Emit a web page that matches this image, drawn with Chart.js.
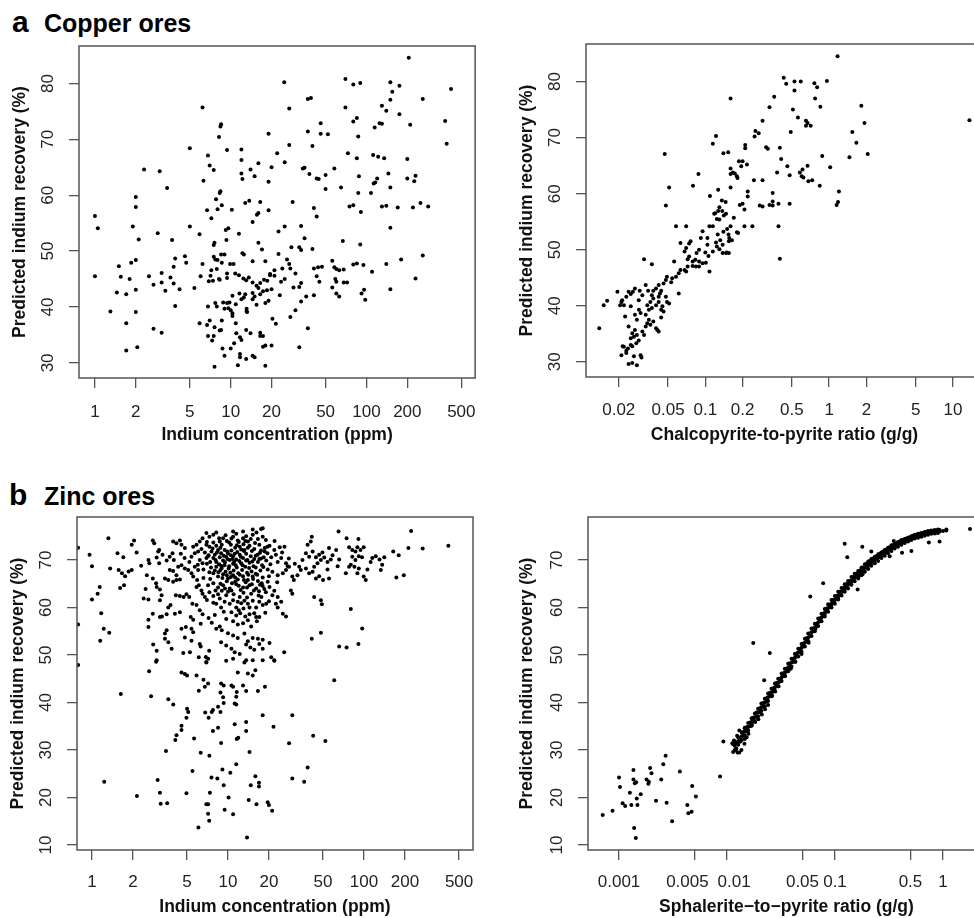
<!DOCTYPE html>
<html>
<head>
<meta charset="utf-8">
<script src="https://cdn.jsdelivr.net/npm/chart.js@4.4.0/dist/chart.umd.min.js"></script>
<style>
html, body { margin: 0; padding: 0; background: #fff; overflow: hidden; width: 974px; height: 918px; }
canvas { position: absolute; }
.lab { position: absolute; font-family: "Liberation Sans", Arial, sans-serif; font-weight: bold; color: #000; line-height: 1; white-space: nowrap; }
</style>
</head>
<body>
<div class="lab" style="left:12px;top:7px;font-size:30px;">a</div>
<div class="lab" style="left:44px;top:11px;font-size:25px;">Copper ores</div>
<div class="lab" style="left:9px;top:480px;font-size:30px;">b</div>
<div class="lab" style="left:44px;top:484px;font-size:25px;">Zinc ores</div>
<canvas id="cuIn" width="490" height="410" style="left:0;top:40px"></canvas>
<canvas id="cuRatio" width="510" height="420" style="left:490px;top:30px"></canvas>
<canvas id="znIn" width="490" height="418" style="left:0;top:500px"></canvas>
<canvas id="znRatio" width="510" height="418" style="left:490px;top:500px"></canvas>
<script>
// tick values and labels
var concTicks = [1, 2, 5, 10, 20, 50, 100, 200, 500];
var concLabels = ["1", "2", "5", "10", "20", "50", "100", "200", "500"];
var cpyTicks = [0.02, 0.05, 0.1, 0.2, 0.5, 1, 2, 5, 10];
var cpyLabels = ["0.02", "0.05", "0.1", "0.2", "0.5", "1", "2", "5", "10"];
var sphTicks = [0.001, 0.005, 0.01, 0.05, 0.1, 0.5, 1];
// the two crowded labels are nudged apart, as in the original
var sphLabels = ["0.001", "0.005\u00a0\u00a0\u00a0", "\u00a0\u00a0\u00a00.01", "0.05", "0.1", "0.5", "1"];
var cuRecTicks = [30, 40, 50, 60, 70, 80];
var znRecTicks = [10, 20, 30, 40, 50, 60, 70];

// a, left: indium concentration (ppm) vs predicted recovery (%)
var copperByIndium = [
[205,84.6],[24.8,80.2],[70,80.8],[80,79.8],[90,80.1],[150,80.2],[175,79.6],[155,78.5],[420,79],[260,77.2],[150,77.1],[6.2,75.7],[27,75.5],[37,77.2],[39,77.4],[70,75.7],[130,76],[140,75.1],[175,74.5],[85,73.8],[80,73.2],[125,72.9],[130,72.8],[380,73.3],[210,72.6],[115,72.1],[46,72.9],[8.5,72.7],[8.4,72.3],[8.2,70.4],[19,71],[37,71.4],[46,71],[52,70.9],[87,70.5],[390,69.2],[40,68.8],[27,69],[5,68.4],[9.4,68.1],[12,68.2],[22,67.5],[73,67.5],[112,67.2],[122,66.9],[135,66.6],[85,66.6],[200,66.5],[6.8,67.1],[12,66.3],[25,65.9],[7,65.3],[16,65.7],[20,65],[35,64.9],[34,64.8],[58,64.8],[7.5,64.5],[2.3,64.6],[3.0,64.3],[3.4,61.3],[14,64.6],[12,63.9],[145,63.9],[38,63.8],[12.2,62.9],[15,63.4],[19,62.4],[6.3,62.6],[43,63],[44.5,62.9],[50,63.6],[88,63.4],[120,63],[230,63.5],[200,63],[225,62.5],[116,62.3],[113,62.1],[108,60.4],[87,60.4],[150,61.4],[65,61.4],[50,61.1],[8.4,60.7],[8.3,60.4],[7.8,59.3],[2,59.7],[2,57.9],[1,56.3],[6.7,57.3],[8,57.5],[8.6,58.2],[10.2,57.4],[12.8,58.6],[13.7,59],[16.5,58.8],[28.6,58.8],[41,57.7],[43,56.2],[75,58],[80,58.2],[91,57],[130,58],[140,58.1],[170,57.8],[220,57.8],[250,58.6],[285,58],[7.2,55.9],[16,56.8],[15.6,56.5],[19,57.3],
[1.05,54.1],[1.9,54.4],[2.1,52.1],[2.9,53.2],[5,54.4],[5.9,53],[3.7,52],[11.5,53.1],[9.2,53.8],[9.6,54.1],[9.3,52],[14.5,55.2],[22.5,53.5],[25,54.4],[33,54.5],[35,52.3],[67,51.8],[90,51.2],[150,54.2],[40,50.4],[28,50.7],[32,50.7],[33,50.2],[7.6,51.5],[7.5,51.1],[16,51.5],[17,50.3],[12.5,49.4],[12.2,49.6],[14.5,48.2],[22.5,49.5],[26,48.5],[27,47.7],[24,46.9],[21,46.6],[18,48.2],[19.5,45.9],[10.5,47.7],[9.9,47.7],[8.6,47.9],[8,48.4],[7.7,48.5],[7.5,49],[8.5,49.4],[9,49.4],[7.9,46.8],[7.2,46.6],[7.1,45.6],[6.2,47.7],[4.6,49.1],[4.7,47.9],[3.9,48.7],[3.8,47.2],[3.1,46.1],[3.1,44.4],[2.7,44],[2.5,45.5],[3.6,45.3],[3.8,44.2],[4.2,43.2],[3.3,42.9],[5.4,43.4],[6,45.5],[6.9,44.6],[7.4,44.7],[8.2,45],[8.3,44.9],[9.4,45.2],[9.4,46],[10.8,46],[11.5,45.7],[12.4,45.1],[13,44.8],[13.6,45.3],[14.5,44.4],[15.5,43.8],[16.5,44.3],[17.6,44.9],[18.6,44.7],[19.5,45.7],[21,45.6],[23.5,44.5],[25,45],[27.5,46.9],[30,46],[29,43.5],[32,43.6],[33,44.3],[36,41.9],[41,42.1],[41,46.9],[44,47.1],[47,47.2],[43,45.5],[45,44.5],[56,48.3],[58,47.1],[60,46.8],[63,46.6],[68,46.7],[59,45],[60,44.5],[68,44.4],[72,44.4],[56,43.5],[60,42.4],[63,41.9],[85,47.8],[95,47.5],[80,47.6],[110,46.3],[140,47.7],[180,48.5],[150,43.2],[92,42.4],[96,43.1],[98,41.3],[230,45.1],[260,49.2],
[1.3,39.2],[1.7,37.1],[1.7,42.3],[1.5,47.3],[1.55,45.4],[1.45,42.6],[1.85,47.9],[1.8,45],[2,48.4],[2,43.1],[2,39.1],[2.05,32.8],[1.7,32.2],[1,45.5],[2.7,36.1],[3.1,35.4],[3.9,40.2],[5.9,37.1],[6.7,36.8],[7,37.6],[6.8,34.8],[7.5,34.8],[7.6,36.4],[7.3,34],[6.8,40.1],[7.7,40.7],[7.9,40.1],[8.8,40.8],[9.4,40.7],[9.8,40.8],[9,39.7],[9.6,39.8],[10,39.4],[10.3,38.9],[10.3,38.4],[10.9,37.1],[10.9,40.5],[10.3,42],[11.6,42.4],[12,41.4],[12.5,41.7],[12.8,42.3],[13.1,39.7],[13.1,39.2],[14.5,41.4],[15,41.9],[14.5,42.5],[15.5,40.4],[16.5,42.3],[17.3,42.8],[18,40.7],[19,41.1],[8.6,37.6],[8.5,35.9],[8.3,35.8],[8.7,32.6],[9,31.3],[10,32.6],[11,35.3],[10.6,33.5],[11.7,34.6],[12,34.1],[13,35.9],[13.2,39.1],[14,35.3],[11.7,31.6],[11.7,31],[13,30.7],[11.3,29.6],[7.6,29.3],[14.5,31.3],[15,31],[16.5,35.4],[17.3,34.8],[16.5,34.8],[17.3,32.9],[18,33.1],[18,29.5],[20,33.1],[20.3,37.9],[21.5,37],[32,32.8],[27.5,38.2],[37,36.2],[30,39.4],[33,41],[18.5,43],[20,43.2],[23,42.1],[16,43.4]
];

// a, right: chalcopyrite-to-pyrite ratio (g/g) vs predicted recovery (%)
var copperByRatio = [
[1.17,84.5],[0.43,80.7],[0.45,79.6],[0.525,80],[0.525,78.4],[0.59,80],[0.76,79.7],[0.8,79],[0.96,80.1],[0.77,77],[0.36,77.3],[0.16,77],[0.33,75.4],[0.51,75],[0.85,75.5],[1.82,75.7],[1.93,72.6],[1.54,71],[1.66,69.1],[2.05,67.1],[1.46,66.5],[0.56,73.6],[0.65,73],[0.67,72.6],[0.71,72.1],[0.65,72.1],[0.29,73],[0.49,71],[0.254,71.2],[0.27,70.8],[0.25,70.2],[0.21,68.7],[0.21,68.1],[0.31,68.3],[0.32,68],[0.40,68.2],[0.41,66.2],[0.38,63.8],[0.46,64.9],[0.48,63.3],[0.58,63.8],[0.61,64.3],[0.67,65],[0.6,63.1],[0.62,62.9],[0.73,62.4],[0.68,62.2],[0.88,66.7],[1.02,64.7],[0.84,61.4],[1.2,60.4],[1.18,58.5],[1.15,58],[0.48,58.2],[0.39,58.2],[0.33,58],[0.35,57.9],[0.35,60.1],[0.35,58.6],[0.275,57.9],[0.29,57.7],[0.29,62.4],[0.047,67.1],[0.051,61.1],[0.048,57.9],[0.122,70.3],[0.115,68.9],[0.14,67.2],[0.153,67.4],[0.088,63.5],[0.0795,61.4],[0.109,59.6],[0.127,60.7],[0.16,64.5],[0.167,63.8],[0.173,63.6],[0.18,63.1],[0.16,63.5],[0.187,65.8],[0.2,65.8],[0.195,64.9],[0.182,62.8],[0.217,65.2],[0.22,60.4],[0.22,59.5],[0.16,61.1],[0.19,58],[0.2,58.2],[0.207,57.2],[0.136,58.8],[0.146,58.5],[0.13,57.6],[0.12,56.5],[0.118,56.4],[0.127,56.9],[0.137,56.9],[0.141,56.1],[0.147,56.4],[0.124,55.5],[0.13,55.4],[0.17,55.7],[0.247,62.4],[0.108,54.2],[0.115,54.2],[0.07,54.2],[0.058,54.2],[0.15,53.7],[0.16,54.2],[0.207,54.2],[0.24,54.2],[0.39,54.2],[13.6,73.1],
[0.18,53.1],[0.156,52.1],[0.154,52.7],[0.132,51.7],[0.124,50.6],[0.115,49.7],[0.106,48.9],[0.149,49.5],[0.155,51.5],[0.095,53.3],[0.092,52.1],[0.104,52.1],[0.104,50.9],[0.089,50],[0.085,49.4],[0.076,51.5],[0.074,51.1],[0.07,50.3],[0.068,49.7],[0.063,51.2],[0.101,47.7],[0.095,47.6],[0.089,47.9],[0.083,48.2],[0.079,47.9],[0.074,48.8],[0.072,48.3],[0.089,47],[0.084,47],[0.079,47.1],[0.07,46.1],[0.068,46.4],[0.072,47],[0.061,45.8],[0.063,46.4],[0.058,45.2],[0.054,44.9],[0.049,45.2],[0.048,44.6],[0.053,44.2],[0.046,44],[0.042,43.7],[0.04,43.1],[0.044,42.7],[0.043,42.2],[0.038,42.7],[0.037,41.9],[0.0345,42.7],[0.033,43.7],[0.032,48.3],[0.037,47.4],[0.056,47.9],[0.061,42.2],[0.108,46.1],[0.1,49.5],[0.122,51.3],[0.126,52.7],[0.138,50.9],[0.13,50.1],[0.14,53.2],[0.164,51.7],[0.184,53],[0.155,49.4],[0.138,49.4],[0.147,49.4],[0.4,48.4],
[0.0295,42.7],[0.031,41.9],[0.029,41],[0.027,43.1],[0.026,42.5],[0.025,42.1],[0.024,42.5],[0.023,41.6],[0.0213,41],[0.022,40.1],[0.0195,42.5],[0.021,40.7],[0.0205,40.1],[0.0161,40.9],[0.0151,40.1],[0.0139,36],[0.0225,38.1],[0.024,36.3],[0.0257,35.1],[0.027,35.7],[0.025,34.2],[0.0265,34.5],[0.028,34.8],[0.029,33.8],[0.031,35.4],[0.032,34.8],[0.0277,33.3],[0.0215,32.8],[0.022,32.7],[0.023,32],[0.0237,32.4],[0.025,33],[0.0257,32.8],[0.021,31.2],[0.023,31.6],[0.0265,31],[0.03,31.2],[0.0305,30.8],[0.024,29.6],[0.0257,29.8],[0.028,29.4],[0.033,36.3],[0.034,36.9],[0.035,37.5],[0.036,36.6],[0.038,37.2],[0.04,36],[0.041,35.7],[0.042,35.4],[0.033,38.4],[0.035,39.3],[0.037,39.6],[0.034,40.1],[0.036,40.7],[0.04,40.1],[0.042,40.7],[0.045,39.9],[0.044,39.3],[0.046,39],[0.044,37.9],[0.042,41.6],[0.038,41.3],[0.049,40.7],[0.051,40.4],[0.048,41.6],[0.025,39.9],[0.0291,39.3],[0.03,38.7],[0.027,38.4],[0.028,37.5]
];

// b, left: indium concentration (ppm) vs predicted recovery (%)
var zincByIndium = [
[0.79,72.6],[0.96,71.1],[1.0,68.7],[1.0,61.7],[1.1,62.9],[1.14,64.3],[1.17,58.8],[1.15,53],[1.22,55.5],[1.34,54.7],[1.32,74.6],[1.36,68.2],[1.54,71.4],[1.7,70.6],[1.57,67.9],[1.66,67.2],[1.75,66.6],[1.86,67.6],[1.96,67.9],[1.61,64.1],[1.72,64.7],[1.96,73.2],[2.04,74.1],[2.13,71.6],[2.3,68.8],[2.4,61.9],[2.6,61.7],[2.48,63.9],[2.53,66.8],[2.6,70],[2.64,69.3],[2.8,74.1],[2.87,73.5],[2.8,66.1],[2.96,65.1],[2.99,70.5],[3.12,69.3],[3.3,71.1],[3.07,71.8],[3.12,72.1],[2.99,64.3],[3.16,63.8],[3.25,62.6],[3.16,61.5],[2.8,58.7],[3.27,58.1],[2.6,57.4],[2.6,55.9],[2.82,52.2],[2.99,50.9],[2.99,48.9],[3.44,53.4],[3.64,52.7],[3.85,51.3],[3.44,54.5],[3.54,55.2],[3.16,58],[3.54,58.6],[3.64,60],[3.78,60.5],[3.64,65.8],[3.44,66.1],[3.73,67.9],[3.95,67.7],[4.18,66.8],[3.54,69.9],[3.73,70.7],[3.91,71.4],[3.95,73.9],[4.18,73.5],[4.43,74.1],[4.55,73.2],[4.82,72.5],[4.3,68.6],[4.55,68.9],[4.82,68.2],[3.95,65.4],[4.18,65.8],[4.43,65.9],[4.14,62.6],[4.43,62.4],[4.72,62.2],[4.95,62.8],[5.19,62.2],[4.07,58.7],[4.43,59],[4.55,55.5],[4.9,55.9],[4.82,53.7],[5.39,53],[4.69,50.4],[5.25,50.6],[5.32,58],[5.55,57.4],[5.55,54.8],[5.39,55.5],[6.2,52.3],[6.3,51.8],[6.1,49.5],[6.87,49.6],[7.14,49.2],[7.27,50.9],[6.94,48.4],[5.47,60.8],[5.87,60.5],[6.2,59.4],[6.5,58.6],[6.5,62.9],[6.76,62.2],[6.38,63.6],[5.87,64.3],[6.1,64.7],[5.55,66.5],[5.93,65.8],[5.1,67.9],[5.39,67.2],[5.7,68.6],[6.03,67.9],[6.2,70],[6.5,69.3],[6.94,70.4],[5.39,70.7],[5.7,71.4],[6.03,71.8],[6.38,72.3],[5.55,72.8],[5.87,73.2],[6.2,73.9],[6.5,74.6],[6.94,75.7],[7.3,74.9],[7.8,75.3],[8.2,75.8],[6.94,73.2],[7.3,72.8],[7.8,73.7],[8.2,73],[8.7,73.9],[9.2,74.6],
[6.76,71.6],[7.14,70.8],[7.56,71.8],[8.0,71.1],[8.45,72.1],[8.9,71.4],[9.45,72.1],[10,71.4],[10.6,72],[11.2,71.3],[7.8,70.4],[8.2,69.6],[8.7,70.6],[9.2,69.9],[9.7,70.7],[10.3,70],[10.9,70.8],[11.5,70.1],[12.2,71.1],[12.9,70.4],[13.6,71.3],[8.2,68.6],[8.8,67.9],[9.45,68.9],[10.1,68.2],[10.9,69.2],[11.6,68.4],[12.5,69.3],[13.4,68.6],[14.4,69.4],[15.4,68.7],[16.6,69.6],[17.8,68.9],[19.1,69.9],[7.8,67.2],[8.45,66.5],[9.2,67],[10,66.1],[10.9,66.8],[11.8,65.9],[12.9,66.6],[14,65.8],[15.2,66.5],[16.6,65.6],[18,66.3],[19.6,65.4],[7.14,64.7],[7.8,65.1],[8.45,64.2],[9.2,64.7],[10.3,64],[11.5,64.9],[12.9,64.2],[14.4,64.7],[16.1,64],[18,64.5],[12.2,72.8],[13.2,72.1],[14.4,73],[15.6,72.3],[17,73.2],[18.6,72.5],[20.2,73],[21.9,72.1],[24,72.7],[10.9,74.9],[11.8,74.1],[12.9,74.6],[14,73.9],[15.2,75.3],[16.6,74.4],[18,74.9],[12.9,76],[15.2,76.4],[17.5,76.5],[18,76.7],[10.9,76],
[7.0,69.2],[7.5,68.4],[8.0,67.8],[8.6,69.1],[9.0,68.3],[9.6,67.5],[10.4,67.3],[11.0,67.8],[11.9,67.2],[12.7,67.9],[13.8,67.3],[14.9,67.6],[16.0,67.1],[17.3,67.8],[6.6,66.2],[7.4,66.0],[9.8,65.5],[10.7,65.1],[12.0,64.6],[13.5,65.3],[15.0,64.9],[17.2,64.8],[19.0,63.2],[16.8,62.5],[14.8,62.9],[13.0,63.1],[11.0,62.8],[10.0,63.3],[9.0,63.5],[7.3,63.2],[7.0,61.6],[7.8,61.0],[11.8,61.2],[13.8,62.1],[17.6,62.2],[18.8,58.9],[16.3,57.1],[13.0,59.8],[12.0,59.4],[9.3,59.1],[8.0,58.4],[7.2,57.8],[6.3,56.6],[7.6,56.8],[9.9,71.8],[10.5,73.2],[11.3,72.6],[12.0,73.8],[13.0,73.3],[14.0,72.6],[15.0,71.9],[16.0,70.9],[17.2,71.5],[18.3,70.6],[19.5,71.4],[20.5,69.1],[8.6,74.6],[9.6,75.2],[10.2,73.7],[11.5,75.5],[13.6,75.0],[16.2,75.8],[19.0,74.2],[22.0,74.0],[25.0,71.6],[28.0,70.3],[31.0,69.2],[26.0,72.8],[20.0,66.6],[23.0,65.3],[7.0,73.8],[6.0,69.0],[5.2,69.6],[4.8,70.4],[4.5,71.3],[4.0,70.0],[6.6,68.0],[7.3,67.4],
[7.2,71.0],[7.7,72.4],[8.3,71.6],[8.8,72.6],[9.3,70.9],[9.9,70.2],[10.5,71.0],[11.1,69.6],[11.7,71.7],[12.4,70.7],[13.1,71.9],[13.9,70.0],[14.7,70.8],[15.6,70.2],[16.5,71.1],[17.5,70.3],[18.6,71.8],[7.4,69.6],[8.1,70.0],[8.9,68.8],[9.5,69.5],[10.2,68.7],[10.8,70.2],[11.4,68.9],[12.1,69.8],[12.8,68.9],[13.6,69.9],[14.3,68.3],[15.1,69.7],[16.0,68.4],[17.0,70.2],[18.2,68.5],[8.5,67.4],[9.1,66.2],[9.8,66.8],[10.5,66.4],[11.3,66.3],[12.2,66.9],[13.1,65.8],[14.1,66.9],[15.3,66.0],[16.4,66.9],[17.7,65.1],[8.1,63.6],[8.8,65.0],[9.5,64.0],[10.6,63.6],[11.3,65.4],[12.4,63.7],[13.8,64.2],[15.5,63.6],[16.9,63.4],[18.5,63.9],[9.0,73.2],[9.8,74.0],[10.6,74.5],[11.6,73.1],[12.5,72.2],[13.4,74.0],[14.7,74.4],[15.8,73.6],[17.5,72.0],[19.5,72.8],
[20.8,70.6],[22.5,71.1],[24.6,70.4],[26.7,69.3],[28.1,68.6],[23.2,69.6],[19.6,68],[21.2,67.5],[23.2,66.8],[25.3,67.2],[26.7,67.9],[27.5,68.7],[20.2,64.3],[21.9,63.5],[23.2,62.2],[21.2,62.6],[20,61.3],[19.1,60.8],[17,61.2],[18,60.5],[16.1,60],[15.2,61.4],[14,60.8],[14.4,60],[12.2,62.2],[13.2,61.4],[10.9,61.5],[10.3,60.8],[11.5,60],[12.5,60.9],[8.7,61.9],[9.45,61.2],[8.2,60.8],[8.9,60],[7.8,62.4],[9.7,62.6],[8.45,62.8],[10.6,59],[11.5,58.3],[12.3,58.8],[13.4,58.1],[14.4,58.6],[15.6,58.8],[17,58],[9.7,57.6],[10.9,57.1],[11.8,56.4],[12.9,56.7],[14,57.3],[14.8,56],[16.1,58],[8.7,56],[8.2,55.5],[9.0,55.2],[10,54.6],[10.9,54.1],[11.8,53.6],[13.2,54.5],[14,52.9],[15.2,53.6],[16.6,53.4],[18,53.2],[8.9,52.7],[9.7,52],[10.6,51.3],[11.2,50.6],[12.2,50.2],[13.6,52.2],[14.6,51.6],[15.6,51.1],[17,52.3],[18,51.3],[20.2,52.5],[20.8,49.5],[21.9,48.8],[25.9,50.6],[9.7,48.8],[10.9,49.2],[13.2,48.4],[15.2,48.9],[23.2,60],[25.3,58.7],[26.7,58.1],[24.6,61.2],[22.5,60.8],
[29.7,66.5],[30.5,65.8],[32.4,66.8],[29,63.6],[29.7,62.9],[33.4,68.6],[34.3,67.9],[35.3,70],[37.4,71.4],[39.5,70.7],[41.9,71.8],[44.3,70.6],[46.8,71.1],[49.5,71.6],[38.5,73.2],[40.6,73.9],[41.3,74.9],[43,68.6],[45.5,69.3],[48.2,70],[51,70.5],[53.9,69.6],[57,70.1],[37.4,68.2],[39.5,67.2],[41.9,67.5],[44.3,66.1],[46.8,66.6],[50,65.8],[53.9,68],[55.3,66.1],[55.3,72.5],[58.7,71],[62.4,72.1],[65.7,70.1],[64,68.7],[65,76],[43,62.2],[48.2,61.5],[49,60.7],[73.5,67.2],[77.7,68.6],[74.5,74.6],[77.7,72.7],[82,72.1],[86.5,71.8],[89.4,72.7],[94.2,72.1],[99.5,72.7],[91,74.4],[82,70.7],[86.5,70],[91.6,70.8],[96.7,70.6],[80,69],[85,68.6],[91.6,68.2],[89.4,67.2],[99.5,66.5],[103,65.8],[106,68],[112,69.6],[115,70.4],[122,70.8],[130,70.1],[136,69],[141,70.6],[133,67.9],[164,71.8],[180,71],[212,72.5],[222,76.1],[270,72.4],[417,73],[173,66.3],[196,66.8],[80,59.7],[97,55.6],[65.7,51.8],[74.5,51.6],[91,52.3],[41.3,53.4],[48.2,54.7],[0.79,56.4],
[2.63,46.6],[1.63,41.8],[2.72,41.3],[3.64,40.7],[3.96,39.6],[4.55,46.3],[4.82,46],[5.0,45.7],[5.87,45.7],[5.0,38.7],[5.1,38],[4.95,36.8],[4.55,35.1],[4.55,34.2],[4.18,33.1],[4.1,32.1],[3.5,29.8],[5.63,32.4],[6.1,42.5],[6.76,43.3],[7.14,44],[6.6,44.8],[8.8,42.1],[9.3,43.6],[10.6,43.6],[10.9,43.3],[11.6,42.2],[11.5,41.2],[11.8,46.3],[8.9,44],[12.9,43.6],[13.6,42.4],[14,46.1],[15.2,45.7],[15.9,46.8],[16.6,42.4],[18.7,43.3],[9.2,41.1],[9.3,39.9],[11.2,39.8],[11.5,39.6],[8.45,39.1],[8.8,38],[7.75,38.4],[7.6,38],[7.2,36.8],[6.8,37.9],[7.75,34],[8.45,34.7],[8.9,31.5],[11.2,35.4],[11.6,32.3],[11.9,32.6],[13.6,35.9],[13.6,34],[14.4,29.6],[18,37.3],[21.6,34.9],[28.1,31.4],[29.7,37.3],[42.3,33],[52,31.9],[60.4,44.7],[6.3,29.4],[7.3,28.8],[5.48,25.6],[9.1,25.9],[10.4,25.2],[11.5,27],[7.56,24.2],[8.35,24],[9.3,22.6],[10.1,20],[15.9,24.5],[16.9,23.1],[16.9,22.3],[14.7,22.6],[14.2,19.5],[16.2,18.6],[19.6,19],[20,18.4],[21.1,17.2],[29.7,24],[36.3,23.3],[38.5,26.3],[4.95,20.9],[3.04,23.7],[3.2,18.7],[3.16,21],[3.57,18.8],[2.14,20.3],[1.23,23.3],[7.36,21],[6.93,18.6],[7.14,18.6],[7.14,16.6],[7.27,15.1],[6.06,13.7],[9.45,17.4],[10.9,16.5],[13.8,11.6],[0.79,47.9],[6.93,48.5],[13.6,48.9],[18,48.9],[21.9,48.9],[2.96,48.6]
];

// b, right: sphalerite-to-pyrite ratio (g/g) vs predicted recovery (%)
var zincByRatio = [
[0.000706,16.3],[0.00087,17.2],[0.001,24.2],[0.00102,22.2],[0.00108,18.8],[0.00114,18.2],[0.00126,21],[0.0013,18.4],[0.00136,25.8],[0.00136,23.8],[0.0014,23],[0.00144,23.2],[0.00138,13.6],[0.00143,11.5],[0.00146,19.8],[0.00148,18.4],[0.00159,20.7],[0.0018,23.8],[0.00187,22.9],[0.00194,26.2],[0.002,25.1],[0.00189,23.3],[0.0022,19.3],[0.00246,23.8],[0.00257,27],[0.0027,28.8],[0.00276,18.9],[0.0031,15],[0.00366,25.5],[0.00429,18.4],[0.00438,16.7],[0.0047,17],[0.00476,22.4],[0.00515,20.2],[0.00862,24.4],[0.00925,31.8],[0.0112,31.4],[0.0121,30],[0.0125,29.5],[0.013,29.5],[0.0124,33],[0.013,34.1],[0.0132,31.8],[0.0146,32.3],[0.0152,32.7],[0.0146,34.6],[0.0157,34.9],
[0.0175,52.5],[0.0249,50.4],[0.0221,44.7],[0.059,62.3],[0.0777,65.1],[0.123,73.4],[0.13,70.6],[0.179,72.8],[0.217,71.8],[0.162,63.8],[0.35,74],[0.321,70.8],[0.418,71.5],[0.51,71.9],[0.74,73.7],[0.93,73.9],[1.78,76.5],
[0.0114,29.6],[0.0114,31.2],[0.0116,32.0],[0.0122,30.3],[0.0122,31.5],[0.0132,31.8],[0.0132,32.6],[0.0141,33.0],[0.0141,33.8],[0.0152,34.0],[0.0152,34.8],[0.0163,35.0],[0.0163,35.8],[0.0175,36.1],[0.0175,36.8],[0.0188,37.0],[0.0188,37.9],[0.0201,38.0],[0.0201,38.8],[0.0205,38.3],[0.0216,39.2],[0.0216,39.9],[0.0232,40.2],[0.0232,40.9],[0.0236,40.5],[0.0249,41.4],[0.0249,42.0],[0.0268,42.3],[0.0268,43.0],[0.0272,42.7],[0.0288,43.4],[0.0288,44.1],[0.0309,44.4],[0.0309,45.0],[0.0314,44.8],[0.0331,45.5],[0.0331,46.1],[0.0356,46.5],[0.0356,47.1],[0.0362,46.8],[0.0382,47.6],[0.0382,48.2],[0.041,48.6],[0.041,49.2],[0.0416,48.9],[0.0441,49.7],[0.0441,50.3],[0.0473,50.7],[0.0473,51.3],[0.048,51.0],[0.0508,51.8],[0.0508,52.4],[0.0545,52.9],[0.0545,53.5],[0.0553,53.2],[0.0585,54.0],[0.0585,54.5],[0.0628,55.0],[0.0628,55.6],[0.0637,55.3],[0.0674,56.1],[0.0674,56.6],[0.0724,57.1],[0.0724,57.7],[0.0735,57.4],[0.0777,58.2],[0.0777,58.7],[0.0834,59.2],[0.0834,59.8],[0.0846,59.5],[0.0896,60.1],[0.0896,60.6],[0.0962,61.0],[0.0962,61.6],[0.0976,61.3],[0.1033,61.9],[0.1033,62.4],[0.1109,62.7],[0.1109,63.3],[0.1125,63.0],[0.119,63.6],[0.119,64.1],[0.1277,64.3],[0.1277,64.9],[0.1296,64.6],[0.137,65.1],[0.137,65.6],[0.1472,65.8],[0.1472,66.4],[0.1494,66.1],[0.158,66.6],[0.158,67.1],[0.1696,67.2],[0.1696,67.8],[0.1721,67.5],[0.182,67.9],[0.182,68.4],[0.1954,68.7],[0.1954,69.2],[0.21,69.3],[0.21,69.8],[0.2254,69.8],[0.2254,70.3],[0.242,70.3],[0.242,70.8],[0.26,70.8],[0.26,71.3],[0.279,71.3],[0.279,71.8],[0.299,71.8],[0.299,72.2],[0.321,72.3],[0.321,72.7],[0.345,72.7],[0.345,73.1],[0.37,73.1],[0.37,73.5],[0.397,73.5],[0.397,73.9],[0.427,73.9],[0.427,74.2],[0.458,74.2],[0.458,74.5],[0.492,74.5],[0.492,74.8],[0.528,74.7],[0.528,75.1],[0.567,75.0],[0.567,75.3],[0.609,75.2],[0.609,75.5],[0.653,75.4],[0.653,75.7],[0.701,75.6],[0.701,75.9],[0.753,75.7],[0.753,76.0],[0.808,75.8],[0.808,76.1],[0.868,75.8],[0.868,76.2],[0.931,76.0],[0.931,76.3],[1.0,76.1],[1.074,76.2],[1.074,76.4],
[0.0118,30.0],[0.0118,31.8],[0.0127,31.1],[0.0127,32.7],[0.0137,32.1],[0.0137,33.7],[0.0146,33.1],[0.0146,34.7],[0.0157,34.1],[0.0157,35.7],[0.0169,35.1],[0.0169,36.7],[0.0181,36.1],[0.0181,37.7],[0.0194,37.1],[0.0194,38.7],[0.0208,38.2],[0.0208,39.8],[0.0224,39.2],[0.0224,40.8],[0.024,40.3],[0.024,41.9],[0.0258,41.3],[0.0258,42.9],[0.0278,42.4],[0.0278,44.0],[0.0298,43.4],[0.0298,45.0],[0.032,44.5],[0.032,46.1],[0.0343,45.5],[0.0343,47.1],[0.0369,46.6],[0.0369,48.2],[0.0396,47.6],[0.0396,49.2],[0.0425,48.6],[0.0425,50.2],[0.0457,49.7],[0.0457,51.3],[0.049,50.7],[0.049,52.3],[0.0526,51.8],[0.0526,53.4],[0.0565,52.9],[0.0565,54.5],[0.0606,54.0],[0.0606,55.6],[0.0651,55.0],[0.0651,56.6],[0.0699,56.1],[0.0699,57.7],[0.075,57.1],[0.075,58.7],[0.0805,58.1],[0.0805,59.7],[0.0864,59.1],[0.0864,60.7],[0.0928,60.0],[0.0928,61.6],[0.0997,60.8],[0.0997,62.4],[0.107,61.7],[0.107,63.3],[0.115,62.5],[0.115,64.1],[0.123,63.3],[0.123,64.9],[0.132,64.0],[0.132,65.6],[0.142,64.8],[0.142,66.4],[0.152,65.5],[0.152,67.1],[0.164,66.1],[0.164,67.7],[0.176,66.8],[0.176,68.4],[0.189,67.5],[0.189,69.1],[0.203,68.1],[0.203,69.7],[0.217,68.8],[0.217,70.2],[0.234,69.3],[0.234,70.7],[0.251,69.8],[0.251,71.2],[0.269,70.4],[0.269,71.6],[0.289,70.9],[0.289,72.1],[0.31,71.4],[0.31,72.6],[0.333,71.9],[0.333,73.1],[0.357,72.4],[0.357,73.4],[0.383,72.8],[0.383,73.8],[0.412,73.2],[0.412,74.2],[0.442,73.6],[0.442,74.4],[0.475,73.9],[0.475,74.7],[0.51,74.2],[0.51,75.0],[0.547,74.5],[0.547,75.3],[0.588,74.7],[0.588,75.5],[0.631,74.9],[0.631,75.7],[0.677,75.1],[0.677,75.9],[0.727,75.3],[0.727,76.1],[0.78,75.5],[0.78,76.2],[0.838,75.6],[0.838,76.3],[0.9,75.7],[0.9,76.4],
[0.0118,30.9],[0.0127,31.9],[0.0137,32.9],[0.0146,33.9],[0.0157,34.9],[0.0169,35.9],[0.0181,36.9],[0.0194,37.9],[0.0208,39.0],[0.0224,40.0],[0.024,41.1],[0.0258,42.1],[0.0278,43.2],[0.0298,44.2],[0.032,45.3],[0.0343,46.3],[0.0369,47.4],[0.0396,48.4],[0.0425,49.4],[0.0457,50.5],[0.049,51.5],[0.0526,52.6],[0.0565,53.7],[0.0606,54.8],[0.0651,55.8],[0.0699,56.9],[0.075,57.9],[0.0805,58.9],[0.0864,59.9],[0.0928,60.8],[0.0997,61.6],[0.107,62.5],[0.115,63.3],[0.123,64.1],[0.132,64.8],[0.142,65.6],[0.152,66.3],[0.164,66.9],[0.176,67.6],[0.189,68.3],[0.203,68.9],[0.217,69.5],[0.234,70.0],[0.251,70.5],[0.269,71.0],[0.289,71.5],[0.31,72.0],[0.333,72.5],[0.357,72.9],[0.383,73.3],[0.412,73.7],[0.442,74.0],[0.475,74.3],[0.51,74.6],[0.547,74.9],[0.588,75.1],[0.631,75.3],[0.677,75.5],[0.727,75.7],[0.78,75.8],[0.838,75.9],[0.9,76.1],
[0.0136,30.0],[0.0145,31.3],[0.0158,33.4],[0.017,35.3],[0.0182,35.9],[0.0195,36.5],[0.021,37.5],[0.0225,38.6],[0.024,39.5],[0.0262,41.4],[0.028,42.3],[0.030,43.4],[0.0345,45.6],[0.039,47.1],[0.043,48.6],[0.049,50.2],[0.057,52.6],[0.066,55.5],[0.08,58.6],[0.092,60.4],[0.107,62.0],[0.122,63.5],[0.14,65.0],[0.165,66.4],[0.18,67.0],[0.2,68.3],[0.23,69.4]
];

var FONT = '"Liberation Sans", Arial, sans-serif';
Chart.defaults.font.family = FONT;
Chart.defaults.color = "#222";

// draws the R-style box and the y tick labels turned along the axis
var frame = {
	id: "frame",
	afterDraw(chart, args, opts) {
		var ctx = chart.ctx;
		var a = chart.chartArea;
		var y = chart.scales.y;
		ctx.save();
		ctx.strokeStyle = "#555";
		ctx.lineWidth = 1.5;
		ctx.strokeRect(a.left, a.top, a.right - a.left, a.bottom - a.top);
		ctx.fillStyle = "#222";
		ctx.font = "17px " + FONT;
		ctx.textAlign = "center";
		ctx.textBaseline = "middle";
		y.ticks.forEach((t) => {
			ctx.save();
			ctx.translate(a.left - 31, y.getPixelForValue(t.value));
			ctx.rotate(-Math.PI / 2);
			ctx.fillText(String(t.value), 0, 0);
			ctx.restore();
		});
		ctx.restore();
	},
};
Chart.register(frame);

function makePanel(id, points, xr, xTicks, xLabels, yr, yTicks, xTitle, g) {
	new Chart(document.getElementById(id), {
		type: "scatter",
		data: {
			datasets: [{
				data: points.map((p) => ({ x: p[0], y: p[1] })),
				backgroundColor: "#000",
				borderWidth: 0,
				pointRadius: 2,
			}],
		},
		options: {
			responsive: false,
			animation: false,
			devicePixelRatio: 1,
			layout: { padding: { left: 0, top: g.top, right: g.right, bottom: 0 } },
			plugins: { legend: { display: false }, tooltip: { enabled: false } },
			scales: {
				x: {
					type: "logarithmic",
					min: xr[0],
					max: xr[1],
					afterBuildTicks: (s) => { s.ticks = xTicks.map((v) => ({ value: v })); },
					afterFit: (s) => { s.height = g.xh; },
					ticks: {
						autoSkip: false,
						maxRotation: 0,
						padding: g.xPad,
						color: "#222",
						font: { size: 17 },
						callback: (v, i) => xLabels[i],
					},
					grid: { drawOnChartArea: false, drawTicks: true, tickLength: 10, color: "#555", lineWidth: 1.3 },
					border: { display: false },
					title: { display: true, text: xTitle, color: "#111", font: { size: 17.5, weight: "bold" }, padding: { top: 0, bottom: g.xtPad } },
				},
				y: {
					min: yr[0],
					max: yr[1],
					afterBuildTicks: (s) => { s.ticks = yTicks.map((v) => ({ value: v })); },
					afterFit: (s) => { s.width = g.yw; },
					ticks: { display: false },
					grid: { drawOnChartArea: false, drawTicks: true, tickLength: 10, color: "#555", lineWidth: 1.3 },
					border: { display: false },
					title: { display: true, text: "Predicted indium recovery (%)", color: "#111", font: { size: 17.5, weight: "bold" }, padding: { top: g.ytPad, bottom: 0 } },
				},
			},
		},
	});
}

makePanel("cuIn", copperByIndium, [0.763, 632], concTicks, concLabels, [27.3, 86.7], cuRecTicks,
	"Indium concentration (ppm)", { top: 6, right: 14, yw: 79, xh: 72, xPad: 14, xtPad: 4.5, ytPad: 9.5 });
makePanel("cuRatio", copperByRatio, [0.01087, 17.5], cpyTicks, cpyLabels, [27.3, 86.7], cuRecTicks,
	"Chalcopyrite-to-pyrite ratio (g/g)", { top: 14, right: 17, yw: 96, xh: 73, xPad: 13, xtPad: 4.5, ytPad: 26.5 });
makePanel("znIn", zincByIndium, [0.776, 633], concTicks, concLabels, [8.95, 79.05], znRecTicks,
	"Indium concentration (ppm)", { top: 17, right: 17, yw: 77, xh: 68, xPad: 12, xtPad: 0.5, ytPad: 7.5 });
makePanel("znRatio", zincByRatio, [0.000516, 2.45], sphTicks, sphLabels, [8.95, 79.05], znRecTicks,
	"Sphalerite\u2212to\u2212pyrite ratio (g/g)", { top: 17, right: 15, yw: 98, xh: 68, xPad: 12, xtPad: 0.5, ytPad: 26.5 });
</script>
</body>
</html>
